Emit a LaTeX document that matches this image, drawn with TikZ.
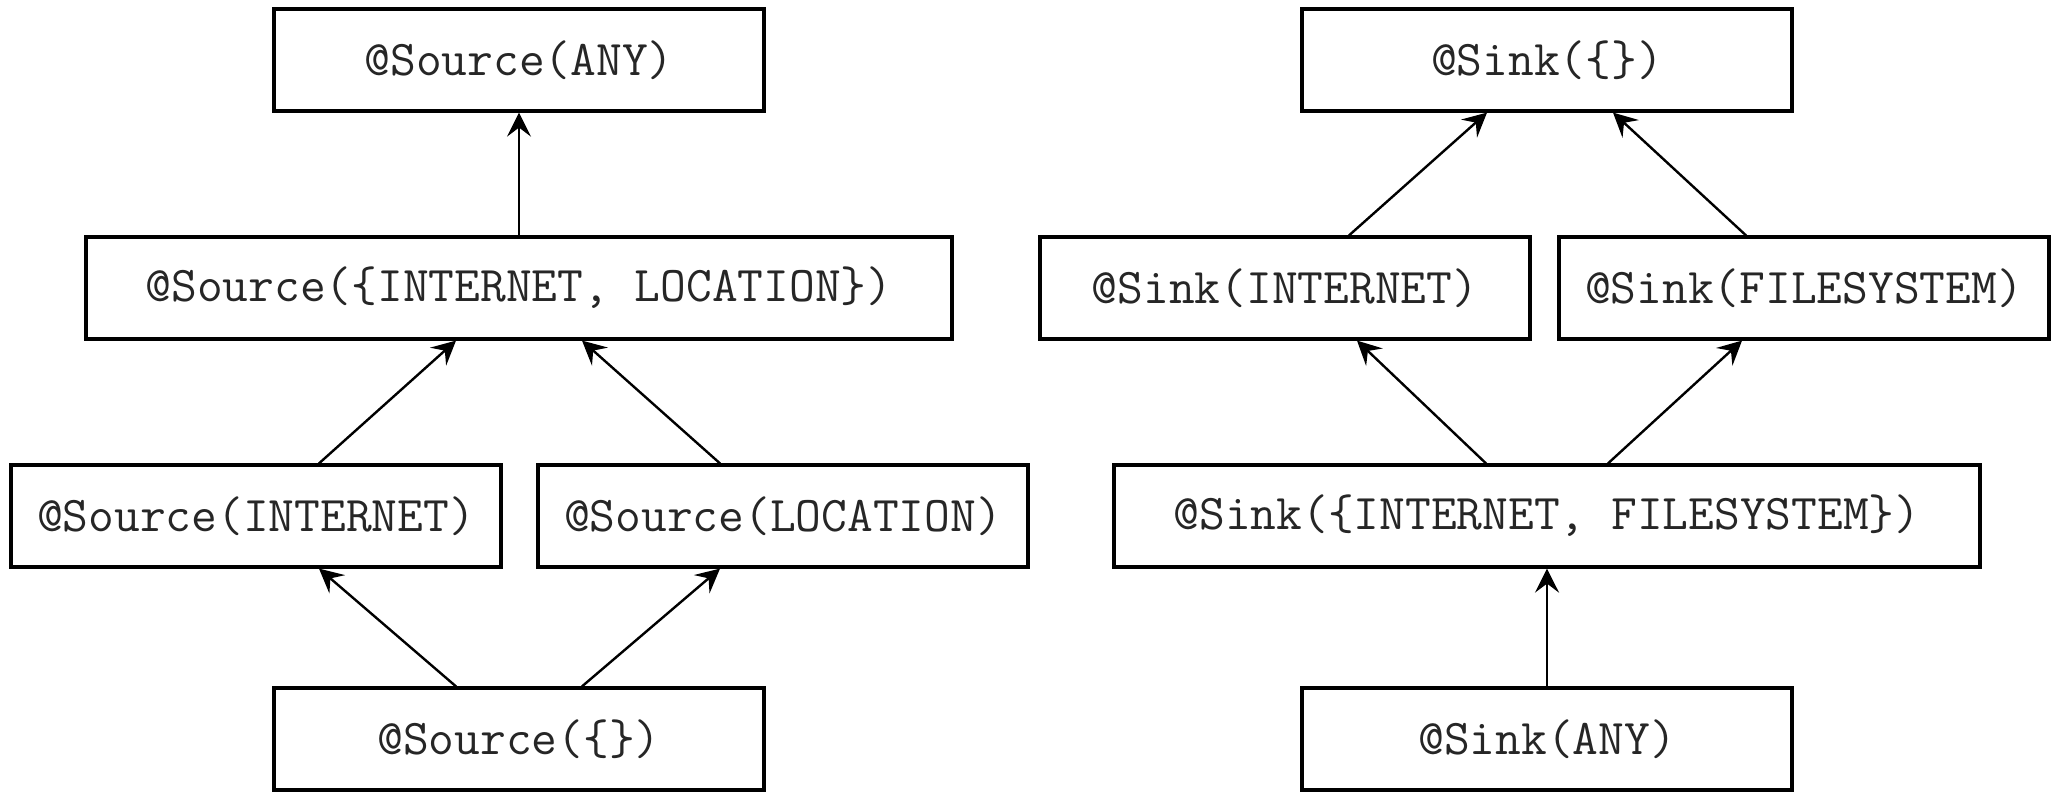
\documentclass[tikz,border=0pt]{standalone}
\usetikzlibrary{arrows.meta}
\tikzset{
  box/.style={draw=black, line width=1.6pt, minimum height=51pt, inner sep=0pt,
    font=\ttfamily\fontsize{25}{30}\selectfont, text=black!85},
  small/.style={box, minimum width=245pt},
  big/.style={box, minimum width=433pt},
  arr/.style={-{Stealth[length=12pt,width=12pt,inset=4.5pt]}, line width=1.2pt}
}
\begin{document}
\begin{tikzpicture}[x=0.5pt,y=-0.5pt]
\useasboundingbox (0,0) rectangle (2051,792);
% left lattice
\node[small] (sa)  at (519,60)  {@Source(ANY)};
\node[big]   (sil) at (519,288) {@Source(\{INTERNET, LOCATION\})};
\node[small] (si)  at (256,516) {@Source(INTERNET)};
\node[small] (sl)  at (783,516) {@Source(LOCATION)};
\node[small] (se)  at (519,739) {@Source(\{\})};
% right lattice
\node[small] (ke)  at (1547,60)  {@Sink(\{\})};
\node[small] (ki)  at (1285,288) {@Sink(INTERNET)};
\node[small] (kf)  at (1804,288) {@Sink(FILESYSTEM)};
\node[big]   (kif) at (1547,516) {@Sink(\{INTERNET, FILESYSTEM\})};
\node[small] (ka)  at (1547,739) {@Sink(ANY)};
% left arrows
\draw[arr] (sil.north) -- (sa.south);
\draw[arr] ([xshift=31.5pt]si.north) -- ([xshift=-31.5pt]sil.south);
\draw[arr] ([xshift=-31.5pt]sl.north) -- ([xshift=31.5pt]sil.south);
\draw[arr] ([xshift=-31.5pt]se.north) -- ([xshift=31.5pt]si.south);
\draw[arr] ([xshift=31.5pt]se.north) -- ([xshift=-31.5pt]sl.south);
% right arrows
\draw[arr] ([xshift=32pt]ki.north) -- ([xshift=-30pt]ke.south);
\draw[arr] ([xshift=-29pt]kf.north) -- ([xshift=33pt]ke.south);
\draw[arr] ([xshift=-30.5pt]kif.north) -- ([xshift=36pt]ki.south);
\draw[arr] ([xshift=30.5pt]kif.north) -- ([xshift=-31pt]kf.south);
\draw[arr] (ka.north) -- (kif.south);
\end{tikzpicture}
\end{document}
